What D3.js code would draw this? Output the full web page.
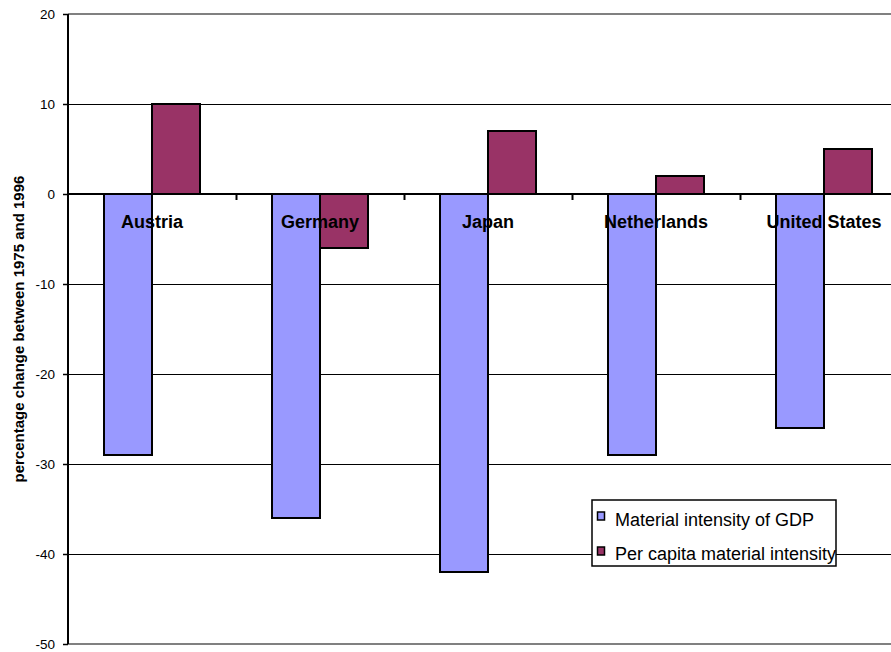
<!DOCTYPE html>
<html>
<head>
<meta charset="utf-8">
<script src="https://cdn.jsdelivr.net/npm/d3@7"></script>
<style>
  html, body { margin: 0; padding: 0; background: #fff; }
  svg { display: block; font-family: "Liberation Sans", Arial, sans-serif; }
</style>
</head>
<body>
<svg id="chart" width="891" height="652"></svg>
<script>
const categories = ["Austria", "Germany", "Japan", "Netherlands", "United States"];
const seriesNames = ["Material intensity of GDP", "Per capita material intensity"];
const gdpIntensity = [-29, -36, -42, -29, -26];
const perCapitaIntensity = [10, -6, 7, 2, 5];
const yTicks = [20, 10, 0, -10, -20, -30, -40, -50];
const colors = ["#9999FF", "#993366"];
const yLabel = "percentage change between 1975 and 1996";

const svg = d3.select("#chart");
const plotLeft = 68, plotRight = 908, plotTop = 14, plotBottom = 644;

const x = d3.scaleBand().domain(categories).range([plotLeft, plotRight])
  .paddingInner(72 / 168).paddingOuter(36 / 168);
const xs = d3.scaleBand().domain(seriesNames).range([0, x.bandwidth()]);
const y = d3.scaleLinear().domain([-50, 20]).range([plotBottom, plotTop]);

// gridlines
const gridVals = yTicks.filter(v => v !== 20 && v !== -50 && v !== 0);
svg.append("g").selectAll("line").data(gridVals).join("line")
  .attr("x1", plotLeft).attr("x2", 891)
  .attr("y1", d => Math.round(y(d)) + 0.5).attr("y2", d => Math.round(y(d)) + 0.5)
  .attr("stroke", "#000").attr("stroke-width", 1);
// top and bottom border lines (gray)
svg.append("g").selectAll("line").data([20, -50]).join("line")
  .attr("x1", plotLeft).attr("x2", 891)
  .attr("y1", d => y(d)).attr("y2", d => y(d))
  .attr("stroke", "#808080").attr("stroke-width", 2);

// bars
const data = [];
categories.forEach((c, i) => {
  data.push({ cat: c, s: seriesNames[0], v: gdpIntensity[i], color: colors[0] });
  data.push({ cat: c, s: seriesNames[1], v: perCapitaIntensity[i], color: colors[1] });
});
svg.append("g").selectAll("rect").data(data).join("rect")
  .attr("x", d => x(d.cat) + xs(d.s))
  .attr("width", xs.bandwidth())
  .attr("y", d => y(Math.max(0, d.v)))
  .attr("height", d => Math.abs(y(d.v) - y(0)))
  .attr("fill", d => d.color)
  .attr("stroke", "#000").attr("stroke-width", 2);

// zero line
svg.append("line").attr("x1", plotLeft).attr("x2", 891)
  .attr("y1", y(0)).attr("y2", y(0))
  .attr("stroke", "#000").attr("stroke-width", 2);

// category ticks at band boundaries
const bounds = categories.slice(1).map(c => x(c) - x.step() * x.paddingInner() / 2);
svg.append("g").selectAll("line").data(bounds).join("line")
  .attr("x1", d => Math.round(d) + 0.5).attr("x2", d => Math.round(d) + 0.5)
  .attr("y1", y(0)).attr("y2", y(0) + 6)
  .attr("stroke", "#000").attr("stroke-width", 2);

// y axis
const yAxis = d3.axisLeft(y).tickValues(yTicks).tickSize(5).tickPadding(8).tickFormat(d => String(d));
const gy = svg.append("g").attr("transform", `translate(${plotLeft},0)`).call(yAxis);
gy.select(".domain").attr("stroke", "#000").attr("stroke-width", 2).attr("d", `M0,${plotTop}V${plotBottom}`);
gy.selectAll(".tick line").attr("stroke", "#000").attr("stroke-width", 1.5);
gy.selectAll(".tick text").attr("fill", "#000").style("font-size", "13.5px")
  .style("font-family", '"Liberation Sans", Arial, sans-serif');

// category labels
svg.append("g").selectAll("text").data(categories).join("text")
  .attr("x", d => x(d) + x.bandwidth() / 2)
  .attr("y", 228)
  .attr("text-anchor", "middle")
  .style("font-size", "18px").style("font-weight", "bold")
  .attr("fill", "#000")
  .text(d => d);

// y label (clipped at top like original)
svg.append("clipPath").attr("id", "ylabclip").append("rect")
  .attr("x", 0).attr("y", 175).attr("width", 40).attr("height", 400);
svg.append("g").attr("clip-path", "url(#ylabclip)")
  .append("text")
  .attr("transform", "translate(24,329) rotate(-90)")
  .attr("text-anchor", "middle")
  .style("font-size", "15px").style("font-weight", "bold")
  .attr("fill", "#000")
  .text(yLabel);

// legend
const lg = svg.append("g");
lg.append("rect").attr("x", 592).attr("y", 500).attr("width", 244).attr("height", 66)
  .attr("fill", "#fff").attr("stroke", "#000").attr("stroke-width", 1.5);
seriesNames.forEach((s, i) => {
  lg.append("rect").attr("x", 597.5).attr("y", 512 + i * 35).attr("width", 7).attr("height", 8)
    .attr("fill", colors[i]).attr("stroke", "#000").attr("stroke-width", 1.5);
  lg.append("text").attr("x", 615).attr("y", 526 + i * 34)
    .style("font-size", "18px").attr("fill", "#000").text(s);
});
</script>
</body>
</html>
